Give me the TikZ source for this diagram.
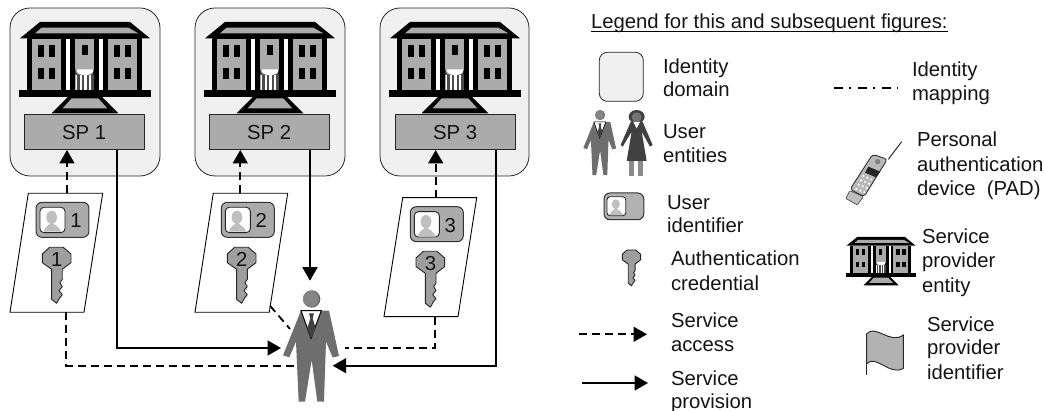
\documentclass[tikz,border=0pt]{standalone}
\usepackage{fontspec}
\setmainfont{Liberation Sans}
\usetikzlibrary{arrows.meta}
\definecolor{domfill}{gray}{0.94}
\definecolor{spfill}{gray}{0.67}
\definecolor{inkc}{gray}{0.08}
\definecolor{suit}{gray}{0.43}
\tikzset{
  x=1pt,y=-1pt,
  txt/.style={anchor=base west,inner sep=0pt,outer sep=0pt,font=\fontsize{20.3}{23}\selectfont,text=inkc},
  num/.style={anchor=base,inner sep=0pt,outer sep=0pt,font=\fontsize{20.3}{23}\selectfont,text=inkc},
  domainbox/.style={draw=black!85,fill=domfill,line width=0.8pt,rounded corners=20pt},
  spbox/.style={draw=black!85,fill=spfill,line width=0.9pt,minimum width=119.5pt,minimum height=35pt,inner sep=0pt,anchor=north west,font=\fontsize{20.3}{23}\selectfont,text=inkc},
  paper/.style={draw=black,fill=white,line width=0.9pt},
  tiph/.style={-{Triangle[length=13.5pt,width=15pt]}},
  dashln/.style={line width=1.8pt,dash pattern=on 8pt off 5pt},
  solidln/.style={line width=1.8pt},
  mapln/.style={line width=1.8pt,dash pattern=on 9pt off 6pt on 2pt off 7pt},
}
% building: zoom coordinates (origin 0,0), scale s
\newcommand{\buildingicon}[3]{%
\begin{scope}[shift={(#1,#2)},scale=#3]
 \fill[black] (120,66)--(390,66)--(450,115)--(60,115)--cycle;
 \fill[spfill] (125,83)--(385,83)--(415,100)--(105,100)--cycle;
 \fill[black] (80,115) rectangle (425,272);
 \fill[white] (198,118) rectangle (209,270);
 \fill[white] (298,118) rectangle (309,270);
 \fill[spfill] (97,118) rectangle (182,270);
 \fill[spfill] (226,118) rectangle (282,270);
 \fill[spfill] (325,118) rectangle (410,270);
 \foreach \wx in {113,147,342,375}{
   \fill[black] (\wx,135) rectangle +(19,35);
   \fill[black] (\wx,205) rectangle +(19,33);
 }
 \fill[black] (245,135) rectangle (263,165);
 \fill[black] (226,224) -- (226,205) arc[start angle=180,end angle=0,x radius=28,y radius=33] -- (282,224) -- cycle;
 \fill[white] (230,208) arc[start angle=180,end angle=0,x radius=25,y radius=18] -- cycle;
 \fill[white] (228,224) rectangle (282,270);
 \foreach \cx in {232,246,260,274}{\fill[black!70] (\cx,224) rectangle +(7,46);}
 \fill[black] (57,270) rectangle (453,290);
 \fill[black] (205,290)--(305,290)--(355,340)--(155,340)--cycle;
 \fill[spfill] (215,295)--(295,295)--(322,325)--(188,325)--cycle;
\end{scope}}
% photo-id card body; origin = top-left of card in zoom units
\newcommand{\cardbody}[3]{%
\begin{scope}[shift={(#1,#2)},scale=#3]
 \draw[draw=black!80,fill=spfill,line width=1pt,rounded corners=#3*18pt] (0,0) rectangle (159,105);
 \draw[draw=black!85,fill=white,line width=0.9pt,rounded corners=#3*12pt] (12,15) rectangle (87,91);
 \fill[black!25] (47,45) ellipse [x radius=16,y radius=20];
 \fill[black!25] (22,88) .. controls (28,72) and (40,66) .. (47,62) .. controls (55,66) and (68,72) .. (76,88) -- cycle;
\end{scope}}
% key; origin = top-left of head in zoom units
\newcommand{\keyicon}[3]{%
\begin{scope}[shift={(#1,#2)},scale=#3]
 \draw[draw=black!85,fill=black!38,line width=0.9pt,line join=round]
  (22,0)--(63,0)--(86,20)--(86,46)--(60,66)--(60,96)--(53,106)--(60,118)--(50,130)--(60,142)--(52,152)--(43,168)--(28,156)--(28,66)--(0,46)--(0,20)--cycle;
\end{scope}}
% man; zoom coords rel. (333,61)
\newcommand{\manicon}[3]{%
\begin{scope}[shift={(#1,#2)},scale=#3,shift={(-333,-61)}]
 \fill[black!62] (335,87) circle (26);
 \fill[black!48] (333,87) circle (24);
 \fill[suit] (303,122)--(387,122)--(417,258)--(398,263)--(378,215)--(372,395)--(352,395)--(335,270)--(315,395)--(296,395)--(288,215)--(268,262)--(249,256)--cycle;
 \fill[white] (303,122)--(364,122)--(333,205)--cycle;
 \draw[black,line width=#3*3pt] (303,122)--(333,205)--(364,122)--cycle;
 \fill[black!75] (327,130)--(342,130)--(338,145)--(347,175)--(333,205)--(322,175)--(331,145)--cycle;
\end{scope}}
\begin{document}
\begin{tikzpicture}
\useasboundingbox (0,0) rectangle (1044,411);
% identity domains
\draw[domainbox] (10,8) rectangle (160,176);
\draw[domainbox] (195,8) rectangle (345,176);
\draw[domainbox] (380,8) rectangle (529,176);
\buildingicon{0}{0}{0.3333}
\buildingicon{185}{0}{0.3333}
\buildingicon{370}{0}{0.3333}
\node[spbox] (sp1) at (24,114.5) {SP 1};
\node[spbox] (sp2) at (209,114.5) {SP 2};
\node[spbox] (sp3) at (395,114.5) {SP 3};
% papers
\draw[paper] (28.3,193.3)--(102.7,193.3)--(84,312.3)--(10,312.3)--cycle;
\draw[paper] (213.3,193.3)--(287.7,193.3)--(269.3,312.3)--(195,312.3)--cycle;
\draw[paper] (402.7,197.7)--(476.7,197.7)--(458,316.7)--(384,316.7)--cycle;
\cardbody{36}{202.3}{0.3333}
\cardbody{221.3}{202.3}{0.3333}
\cardbody{410.3}{206.7}{0.3333}
\node[num] (c1) at (76,228) {1};
\node[num] (c2) at (261.3,228) {2};
\node[num] (c3) at (450.3,232.5) {3};
\keyicon{42.3}{247.3}{0.3333}
\keyicon{227.3}{247.3}{0.3333}
\keyicon{416}{251.3}{0.3333}
\node[num] (k1) at (56.7,266.5) {1};
\node[num] (k2) at (241.7,266.5) {2};
\node[num] (k3) at (430.5,270.5) {3};
% person
\manicon{311}{290.3}{0.3333}
% connector ends
\coordinate (a1) at (67,193.3); \coordinate (a1t) at (67,150);
\coordinate (a2) at (240.3,193.3); \coordinate (a2t) at (240.3,150);
\coordinate (a3) at (435.7,197.7); \coordinate (a3t) at (435.7,150);
\draw[dashln,tiph] (a1)--(a1t);
\draw[dashln,tiph] (a2)--(a2t);
\draw[dashln,tiph] (a3)--(a3t);
\coordinate (s1) at (117,150); \coordinate (s1c) at (117,348); \coordinate (s1e) at (281,348);
\draw[solidln,tiph] (s1)--(s1c)--(s1e);
\coordinate (s2) at (310,150); \coordinate (s2e) at (310,280.7);
\draw[solidln,tiph] (s2)--(s2e);
\coordinate (s3) at (496,150); \coordinate (s3c) at (496,365.7); \coordinate (s3e) at (332.7,365.7);
\draw[solidln,tiph] (s3)--(s3c)--(s3e);
\coordinate (d1) at (66,312.3); \coordinate (d1c) at (66,365.7); \coordinate (d1e) at (297,365.7);
\draw[dashln] (d1)--(d1c)--(d1e);
\coordinate (d2) at (270,305.7); \coordinate (d2e) at (290,329);
\draw[dashln] (d2)--(d2e);
\coordinate (d3) at (434.7,316.7); \coordinate (d3c) at (434.7,348); \coordinate (d3e) at (345,348);
\draw[dashln] (d3)--(d3c)--(d3e);
% legend
\node[txt] (title) at (591,29) {Legend for this and subsequent figures:};
\coordinate (ula) at (title.base west); \coordinate (ulb) at (title.base east);
\draw[black,line width=1.3pt] ([yshift=-2.5pt]ula)--([yshift=-2.5pt]ulb);
\draw[draw=black!85,fill=domfill,line width=0.8pt,rounded corners=8pt] (599.3,52.3) rectangle (643.3,101.3);
\node[txt] (t1a) at (663,74) {Identity};
\node[txt] (t1b) at (663,97) {domain};
\manicon{599.7}{110}{0.195}
\begin{scope}[shift={(560,60)},scale=0.3333]
 \fill[black!75] (230,170) ellipse [x radius=24,y radius=20];
 \fill[black!55] (230,172) circle (15);
 \fill[black!75] (212,186)--(248,186)--(278,255)--(270,260)--(245,215)--(260,303)--(200,303)--(215,215)--(188,260)--(182,255)--cycle;
 \fill[white] (220,186)--(240,186)--(230,205)--cycle;
 \fill[black!45] (207,303)--(222,303)--(222,347)--(207,347)--cycle;
 \fill[black!45] (235,303)--(250,303)--(250,347)--(235,347)--cycle;
\end{scope}
\node[txt] (t2a) at (663,139) {User};
\node[txt] (t2b) at (663,163) {entities};
\begin{scope}[shift={(604,193)},scale=0.25]
 \draw[draw=black!80,fill=black!30,line width=1pt,rounded corners=6pt] (0,0) rectangle (159,107);
 \draw[draw=black!85,fill=white,line width=0.9pt,rounded corners=3pt] (12,15) rectangle (87,91);
 \fill[black!25] (47,45) ellipse [x radius=16,y radius=20];
 \fill[black!25] (22,88) .. controls (28,72) and (40,66) .. (47,62) .. controls (55,66) and (68,72) .. (76,88) -- cycle;
\end{scope}
\node[txt] (t3a) at (667,210) {User};
\node[txt] (t3b) at (667,233) {identifier};
\keyicon{622.3}{250}{0.2133}
\node[txt] (t4a) at (671,266) {Authentication};
\node[txt] (t4b) at (671,291) {credential};
\coordinate (la) at (579,334.3); \coordinate (lb) at (647,334.3);
\draw[dashln,tiph] (la)--(lb);
\node[txt] (t5a) at (671,328) {Service};
\node[txt] (t5b) at (671,352) {access};
\coordinate (lc) at (582,383); \coordinate (ld) at (648,383);
\draw[solidln,tiph] (lc)--(ld);
\node[txt] (t6a) at (671,385) {Service};
\node[txt] (t6b) at (671,408) {provision};
\coordinate (me) at (834,87.7); \coordinate (mf) at (898,87.7);
\draw[mapln] (me)--(mf);
\node[txt] (t7a) at (912,77) {Identity};
\node[txt] (t7b) at (912,101) {mapping};
% phone
\begin{scope}[shift={(800,70)},scale=0.3333]
 \draw[black!85,line width=1pt] (265,268)--(305,215);
 \draw[draw=black!70,fill=black!25,line width=0.7pt,rounded corners=1pt] (150,362)--(190,380)--(172,405)--(137,385)--cycle;
 \draw[draw=black!80,fill=black!28,line width=0.9pt,rounded corners=3pt] (218,253)--(262,268)--(192,380)--(150,358)--cycle;
 \fill[black!50] (233,275) circle (8);
 \fill[black!85] (205,290)--(241,305)--(228,322)--(195,308)--cycle;
 \foreach \ki in {0,1,2,3}{\foreach \kj in {0,1,2}{
   \fill[white] ({190-\ki*7+\kj*12},{318+\ki*13+\kj*5}) circle (3.6);}}
\end{scope}
\node[txt] (t8a) at (917,147) {Personal};
\node[txt] (t8b) at (917,172) {authentication};
\node[txt] (t8c) at (917,196) {device\hspace{0.55em}(PAD)};
\buildingicon{835.9}{225.3}{0.177}
\node[txt] (t9a) at (922,244) {Service};
\node[txt] (t9b) at (922,268) {provider};
\node[txt] (t9c) at (922,293) {entity};
\begin{scope}[shift={(840,220)},scale=0.3333]
 \draw[draw=black!85,fill=black!30,line width=0.9pt] (80,342) .. controls (105,310) and (150,375) .. (190,345) -- (190,445) .. controls (150,470) and (105,400) .. (80,432) -- cycle;
 \draw[black!85,line width=1.2pt] (80,342)--(80,465);
\end{scope}
\node[txt] (t10a) at (927,332) {Service};
\node[txt] (t10b) at (927,355) {provider};
\node[txt] (t10c) at (927,380) {identifier};
\end{tikzpicture}
\end{document}
